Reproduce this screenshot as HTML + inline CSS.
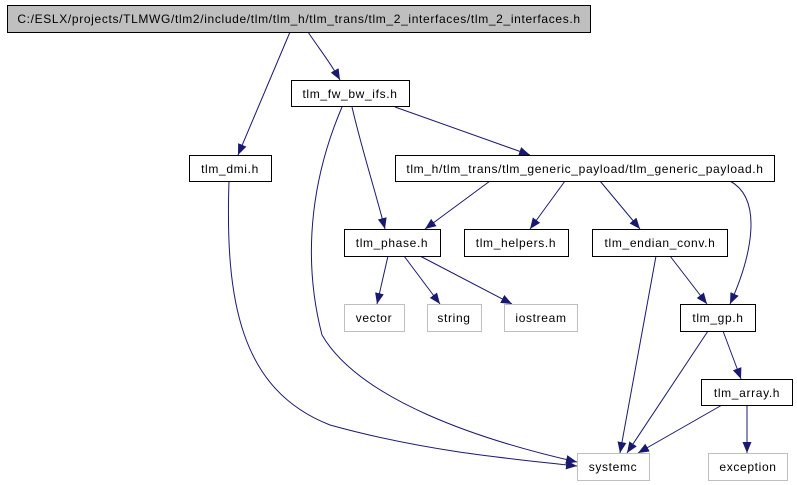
<!DOCTYPE html>
<html><head><meta charset="utf-8"><style>
html,body{margin:0;padding:0;background:#fff;width:797px;height:485px;overflow:hidden}
text{font-family:"Liberation Sans",Helvetica,sans-serif;font-size:12px;fill:#000;letter-spacing:0.65px}
</style></head><body>
<svg width="797" height="485" viewBox="0 0 797 485" xmlns="http://www.w3.org/2000/svg">
<defs><marker id="a" viewBox="0 0 11 9" refX="11" refY="4.5" markerWidth="11" markerHeight="9" markerUnits="userSpaceOnUse" orient="auto"><path d="M0,0L11,4.5L0,9z" fill="#191970"/></marker></defs>
<g fill="none" stroke="#191970" stroke-width="1" marker-end="url(#a)">
<path d="M290,32L238,155"/>
<path d="M308,32C320,50 330,62 340,80"/>
<path d="M395,107L530,155"/>
<path d="M342,107C315,170 300,250 322,335C360,400 480,440 577,462"/>
<path d="M352,107C362,150 375,190 385,229"/>
<path d="M229,181C225,300 240,390 330,425C420,450 500,458 577,466"/>
<path d="M490,181L425,229"/>
<path d="M565,181L530,229"/>
<path d="M600,181L640,229"/>
<path d="M730,181C765,200 750,260 730,304"/>
<path d="M388,256L377,304"/>
<path d="M404,256L440,304"/>
<path d="M420,256L512,304"/>
<path d="M656,256L620,453"/>
<path d="M670,256L707,304"/>
<path d="M708,331L627,453"/>
<path d="M723,331L741,379"/>
<path d="M722,405L638,453"/>
<path d="M747,405L747,453"/>
</g>
<g stroke-width="1">
<rect x="7.5" y="5.5" width="583" height="27" fill="#bfbfbf" stroke="#000"/>
<rect x="291.5" y="80.5" width="118" height="26" fill="#fff" stroke="#000"/>
<rect x="189.5" y="155.5" width="82" height="26" fill="#fff" stroke="#000"/>
<rect x="395.5" y="155.5" width="379" height="26" fill="#fff" stroke="#000"/>
<rect x="344.5" y="229.5" width="96" height="27" fill="#fff" stroke="#000"/>
<rect x="464.5" y="229.5" width="104" height="27" fill="#fff" stroke="#000"/>
<rect x="592.5" y="229.5" width="135" height="27" fill="#fff" stroke="#000"/>
<rect x="344.5" y="304.5" width="60" height="27" fill="#fff" stroke="#bfbfbf"/>
<rect x="427.5" y="304.5" width="54" height="27" fill="#fff" stroke="#bfbfbf"/>
<rect x="504.5" y="304.5" width="73" height="27" fill="#fff" stroke="#bfbfbf"/>
<rect x="680.5" y="304.5" width="75" height="27" fill="#fff" stroke="#000"/>
<rect x="701.5" y="379.5" width="91" height="26" fill="#fff" stroke="#000"/>
<rect x="577.5" y="453.5" width="72" height="27" fill="#fff" stroke="#bfbfbf"/>
<rect x="708.5" y="453.5" width="79" height="27" fill="#fff" stroke="#bfbfbf"/>
</g>
<g text-anchor="middle">
<text x="299" y="23">C:/ESLX/projects/TLMWG/tlm2/include/tlm/tlm_h/tlm_trans/tlm_2_interfaces/tlm_2_interfaces.h</text>
<text x="350" y="98">tlm_fw_bw_ifs.h</text>
<text x="230" y="173">tlm_dmi.h</text>
<text x="585" y="173">tlm_h/tlm_trans/tlm_generic_payload/tlm_generic_payload.h</text>
<text x="392" y="247">tlm_phase.h</text>
<text x="516" y="247">tlm_helpers.h</text>
<text x="660" y="247">tlm_endian_conv.h</text>
<text x="374" y="322">vector</text>
<text x="454" y="322">string</text>
<text x="541" y="322">iostream</text>
<text x="718" y="322">tlm_gp.h</text>
<text x="747" y="397">tlm_array.h</text>
<text x="613" y="471">systemc</text>
<text x="748" y="471">exception</text>
</g>
</svg>
</body></html>
